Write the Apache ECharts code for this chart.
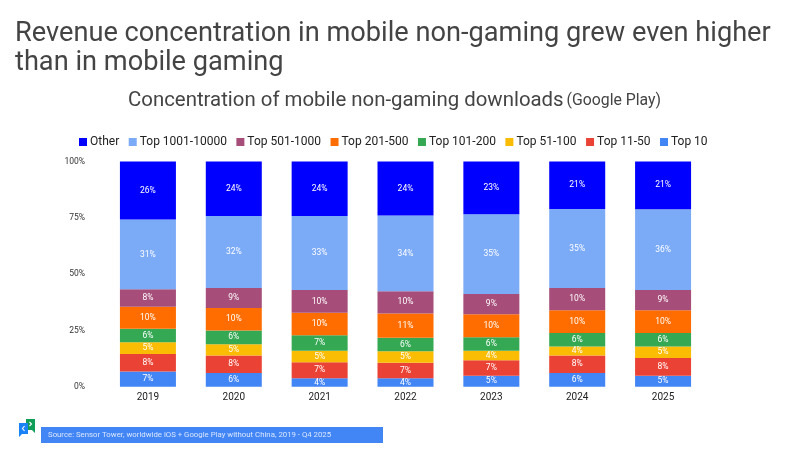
<!DOCTYPE html>
<html>
<head>
<meta charset="utf-8">
<style>html,body{margin:0;padding:0;background:#fff}#chart{width:800px;height:450px}</style>
<script src="https://cdn.jsdelivr.net/npm/echarts@6/dist/echarts.min.js"></script>
</head>
<body>
<div id="chart"></div>
<script>
// Share of Google Play non-gaming downloads by rank tier, in percent.
const years = ['2019', '2020', '2021', '2022', '2023', '2024', '2025'];
const top10 = [6.8, 6.1, 3.8, 3.8, 4.9, 6.1, 4.9];
const top11to50 = [7.7, 7.8, 7.1, 6.8, 6.9, 7.8, 7.8];
const top51to100 = [5.2, 5.0, 5.1, 5.1, 4.2, 4.0, 5.2];
const top101to200 = [6.0, 6.1, 6.8, 6.0, 6.0, 6.0, 6.0];
const top201to500 = [9.8, 9.9, 10.0, 10.8, 10.2, 10.1, 10.1];
const top501to1000 = [7.8, 8.9, 10.1, 9.9, 9.0, 9.8, 8.9];
const top1001to10000 = [30.9, 32.0, 32.9, 33.6, 35.4, 35.1, 35.9];
const other = [25.8, 24.2, 24.2, 24.0, 23.4, 21.1, 21.2];
const axisTicks = ['0%', '25%', '50%', '75%', '100%'];

const tiers = [
  ['Top 10', top10, '#4285f4'],
  ['Top 11-50', top11to50, '#ea4335'],
  ['Top 51-100', top51to100, '#fbbc04'],
  ['Top 101-200', top101to200, '#34a853'],
  ['Top 201-500', top201to500, '#ff6d01'],
  ['Top 501-1000', top501to1000, '#a64d79'],
  ['Top 1001-10000', top1001to10000, '#7baaf7'],
  ['Other', other, '#0000ff']
];

const font = 'Roboto';
const chart = echarts.init(document.getElementById('chart'), null, { renderer: 'canvas' });

chart.setOption({
  animation: false,
  backgroundColor: '#ffffff',
  textStyle: { fontFamily: font },
  legend: {
    top: 131,
    left: 74,
    itemWidth: 8,
    itemHeight: 8,
    itemGap: 9.5,
    icon: 'rect',
    textStyle: { fontFamily: font, fontSize: 12, color: '#222222', padding: [0, 0, 0, -2] },
    data: tiers.map(t => t[0]).reverse()
  },
  grid: { left: 105, right: 94, top: 161.5, height: 225.2 },
  xAxis: {
    type: 'category',
    data: years,
    axisLine: { show: false },
    axisTick: { show: false },
    axisLabel: { color: '#222222', fontSize: 10, margin: 6, fontFamily: font }
  },
  yAxis: {
    type: 'value',
    min: 0,
    max: 100,
    interval: 25,
    splitLine: { show: false },
    axisLine: { show: false },
    axisTick: { show: false },
    axisLabel: {
      color: '#333333',
      fontSize: 8.5,
      margin: 20,
      fontFamily: font,
      formatter: v => axisTicks[v / 25]
    }
  },
  series: tiers.map(([name, values, color]) => ({
    name,
    type: 'bar',
    stack: 'share',
    barWidth: 56,
    data: values,
    itemStyle: { color },
    label: {
      show: true,
      position: 'inside',
      color: '#ffffff',
      fontSize: 8.5,
      fontFamily: font,
      formatter: p => Math.round(p.value) + '%'
    }
  })),
  graphic: [
    {
      type: 'text', left: 15, top: 19,
      style: {
        text: 'Revenue concentration in mobile non-gaming grew even higher\nthan in mobile gaming',
        fontFamily: font, fontSize: 27.2, lineHeight: 29.5, fill: '#444444'
      }
    },
    {
      type: 'text', left: 128, top: 91,
      style: {
        text: '{a|Concentration of mobile non-gaming downloads} {b|(Google Play)}',
        fontFamily: font,
        rich: {
          a: { fontFamily: font, fontSize: 20.4, fill: '#444444', color: '#444444' },
          b: { fontFamily: font, fontSize: 15.8, fill: '#444444', color: '#444444' }
        }
      }
    },
    { type: 'rect', shape: { x: 41, y: 427, width: 342, height: 16 }, style: { fill: '#4285f4' } },
    {
      type: 'text', left: 48, top: 431,
      style: {
        text: 'Source: Sensor Tower, worldwide iOS + Google Play without China, 2019 - Q4 2025',
        fontFamily: font, fontSize: 7.8, fill: '#d9e6fc'
      }
    },
    // Two overlapping speech bubbles beside the source note.
    { type: 'polygon', shape: { points: [[26, 419], [35, 419], [35, 430], [35, 433], [32, 430], [26, 430]] }, style: { fill: '#0f9d58' }, z: 5 },
    { type: 'polygon', shape: { points: [[19, 423], [28, 423], [28, 434], [22, 434], [19, 437]] }, style: { fill: '#1a82f7' }, z: 6 },
    { type: 'polyline', shape: { points: [[24.5, 426], [22.5, 428.5], [24.5, 431]] }, style: { stroke: '#ffffff', lineWidth: 1.1, fill: 'none' }, z: 7 },
    { type: 'polyline', shape: { points: [[29.5, 422], [31.5, 424], [29.5, 426]] }, style: { stroke: '#ffffff', lineWidth: 1.1, fill: 'none' }, z: 7 }
  ]
});
</script>
</body>
</html>
